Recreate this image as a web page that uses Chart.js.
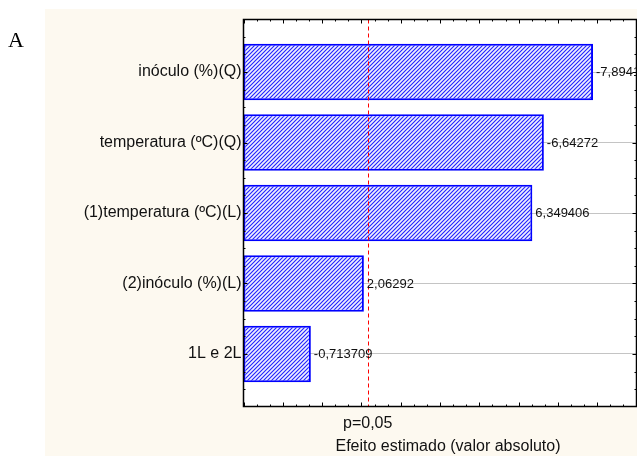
<!DOCTYPE html>
<html>
<head>
<meta charset="utf-8">
<script src="https://cdn.jsdelivr.net/npm/chart.js@4/dist/chart.umd.min.js"></script>
<style>
  html, body { margin: 0; padding: 0; background: #ffffff; overflow: hidden; }
  #wrap { position: relative; width: 637px; height: 456px; }
</style>
</head>
<body>
<div id="wrap"><canvas id="c" width="637" height="456"></canvas></div>
<script>
// Pareto chart of standardized effects
const factors = ['inóculo (%)(Q)', 'temperatura (ºC)(Q)', '(1)temperatura (ºC)(L)', '(2)inóculo (%)(L)', '1L e 2L'];
const effects = [-7.8941, -6.64272, 6.349406, 2.06292, -0.713709];
const pCritical = 2.16;
const pLabel = 'p=0,05';
const xTitle = 'Efeito estimado (valor absoluto)';
const panelLetter = 'A';
const xMin = -1;
const xMax = 9;

const effectLabels = effects.map(v => String(v).replace('.', ','));

const canvas = document.getElementById('c');
const mainCtx = canvas.getContext('2d');

// diagonal hatch fill for the bars
function makeHatch() {
  const t = document.createElement('canvas');
  t.width = 4; t.height = 4;
  const g = t.getContext('2d');
  g.fillStyle = '#eef0ff';
  g.fillRect(0, 0, 4, 4);
  g.strokeStyle = '#2020ff';
  g.lineWidth = 1.1;
  g.beginPath();
  g.moveTo(-1, 5); g.lineTo(5, -1);
  g.moveTo(-1, 1); g.lineTo(1, -1);
  g.moveTo(3, 5); g.lineTo(5, 3);
  g.stroke();
  return mainCtx.createPattern(t, 'repeat');
}

const framePlugin = {
  id: 'frame',
  beforeDraw(chart) {
    const { ctx, chartArea: a } = chart;
    ctx.save();
    ctx.fillStyle = '#fdf9f0';
    ctx.fillRect(45, 9, chart.width - 45, chart.height - 9);
    ctx.fillStyle = '#ffffff';
    ctx.fillRect(a.left, a.top, a.right - a.left, a.bottom - a.top);
    ctx.fillStyle = '#000000';
    ctx.font = "22px 'Liberation Serif', 'Times New Roman', serif";
    ctx.textBaseline = 'alphabetic';
    ctx.fillText(panelLetter, 8, 46.5);
    ctx.restore();
  },
  afterDatasetsDraw(chart) {
    const { ctx, chartArea: a } = chart;
    const xs = chart.scales.x, ys = chart.scales.y;
    ctx.save();

    // critical value line
    const px = xs.getPixelForValue(pCritical);
    ctx.strokeStyle = '#ff0000';
    ctx.lineWidth = 1;
    ctx.setLineDash([4, 3]);
    ctx.beginPath();
    ctx.moveTo(Math.round(px) + 0.5, a.top);
    ctx.lineTo(Math.round(px) + 0.5, a.bottom);
    ctx.stroke();
    ctx.setLineDash([]);

    // value labels at bar ends
    const meta = chart.getDatasetMeta(0);
    ctx.fillStyle = '#111111';
    ctx.font = "13px 'Liberation Sans', Arial, sans-serif";
    ctx.textBaseline = 'middle';
    ctx.textAlign = 'left';
    meta.data.forEach((bar, i) => {
      ctx.fillText(effectLabels[i], bar.x + 3, bar.y + 0.5);
    });

    // frame
    ctx.strokeStyle = '#000000';
    ctx.lineWidth = 1.5;
    ctx.strokeRect(a.left, a.top, a.right - a.left, a.bottom - a.top);

    // inward ticks on all four sides
    ctx.lineWidth = 1;
    ctx.beginPath();
    for (let k = xMin * 3; k <= xMax * 3; k++) {
      const v = k / 3;
      const x = Math.round(xs.getPixelForValue(v)) + 0.5;
      const len = (k % 3 === 0) ? 4 : 2;
      ctx.moveTo(x, a.top); ctx.lineTo(x, a.top + len);
      ctx.moveTo(x, a.bottom); ctx.lineTo(x, a.bottom - len);
    }
    for (let k = Math.ceil(ys.min * 4); k <= Math.floor(ys.max * 4); k++) {
      const v = k / 4;
      const y = Math.round(ys.getPixelForValue(v)) + 0.5;
      const len = (k % 4 === 0) ? 4 : 2;
      ctx.moveTo(a.left, y); ctx.lineTo(a.left + len, y);
      ctx.moveTo(a.right, y); ctx.lineTo(a.right - len, y);
    }
    ctx.stroke();

    // axis captions
    ctx.fillStyle = '#111111';
    ctx.font = "16px 'Liberation Sans', Arial, sans-serif";
    ctx.textBaseline = 'alphabetic';
    ctx.textAlign = 'center';
    ctx.fillText(pLabel, px, a.bottom + 21);
    ctx.fillText(xTitle, (a.left + a.right) / 2 + 8, a.bottom + 44.5);
    ctx.restore();
  }
};

new Chart(canvas, {
  type: 'bar',
  data: {
    datasets: [{
      data: effects.map((v, i) => ({ x: Math.abs(v), y: i })),
      base: xMin,
      backgroundColor: makeHatch(),
      borderColor: '#0000ff',
      borderWidth: 2,
      borderSkipped: false,
      categoryPercentage: 1,
      barPercentage: 0.8
    }]
  },
  options: {
    indexAxis: 'y',
    responsive: false,
    animation: false,
    devicePixelRatio: 1,
    layout: { padding: { top: 19.5, right: 0.5, left: 0, bottom: 0 } },
    plugins: { legend: { display: false }, tooltip: { enabled: false } },
    scales: {
      x: {
        type: 'linear',
        position: 'bottom',
        min: xMin,
        max: xMax,
        offset: false,
        ticks: { display: false },
        grid: { display: false, offset: false },
        border: { display: false },
        afterFit: s => { s.height = 49.5; }
      },
      y: {
        type: 'linear',
        reverse: true,
        offset: false,
        min: -0.745,
        max: factors.length - 1 + 0.745,
        ticks: {
          stepSize: 1,
          includeBounds: false,
          autoSkip: false,
          padding: 2,
          color: '#111111',
          font: { family: "'Liberation Sans', Arial, sans-serif", size: 16 },
          callback: v => (Number.isInteger(v) && factors[v] !== undefined) ? factors[v] : ''
        },
        grid: { color: '#c4c4c4', lineWidth: 1, drawTicks: false, offset: false },
        border: { display: false },
        afterFit: s => { s.width = 243.5; }
      }
    }
  },
  plugins: [framePlugin]
});
</script>
</body>
</html>
